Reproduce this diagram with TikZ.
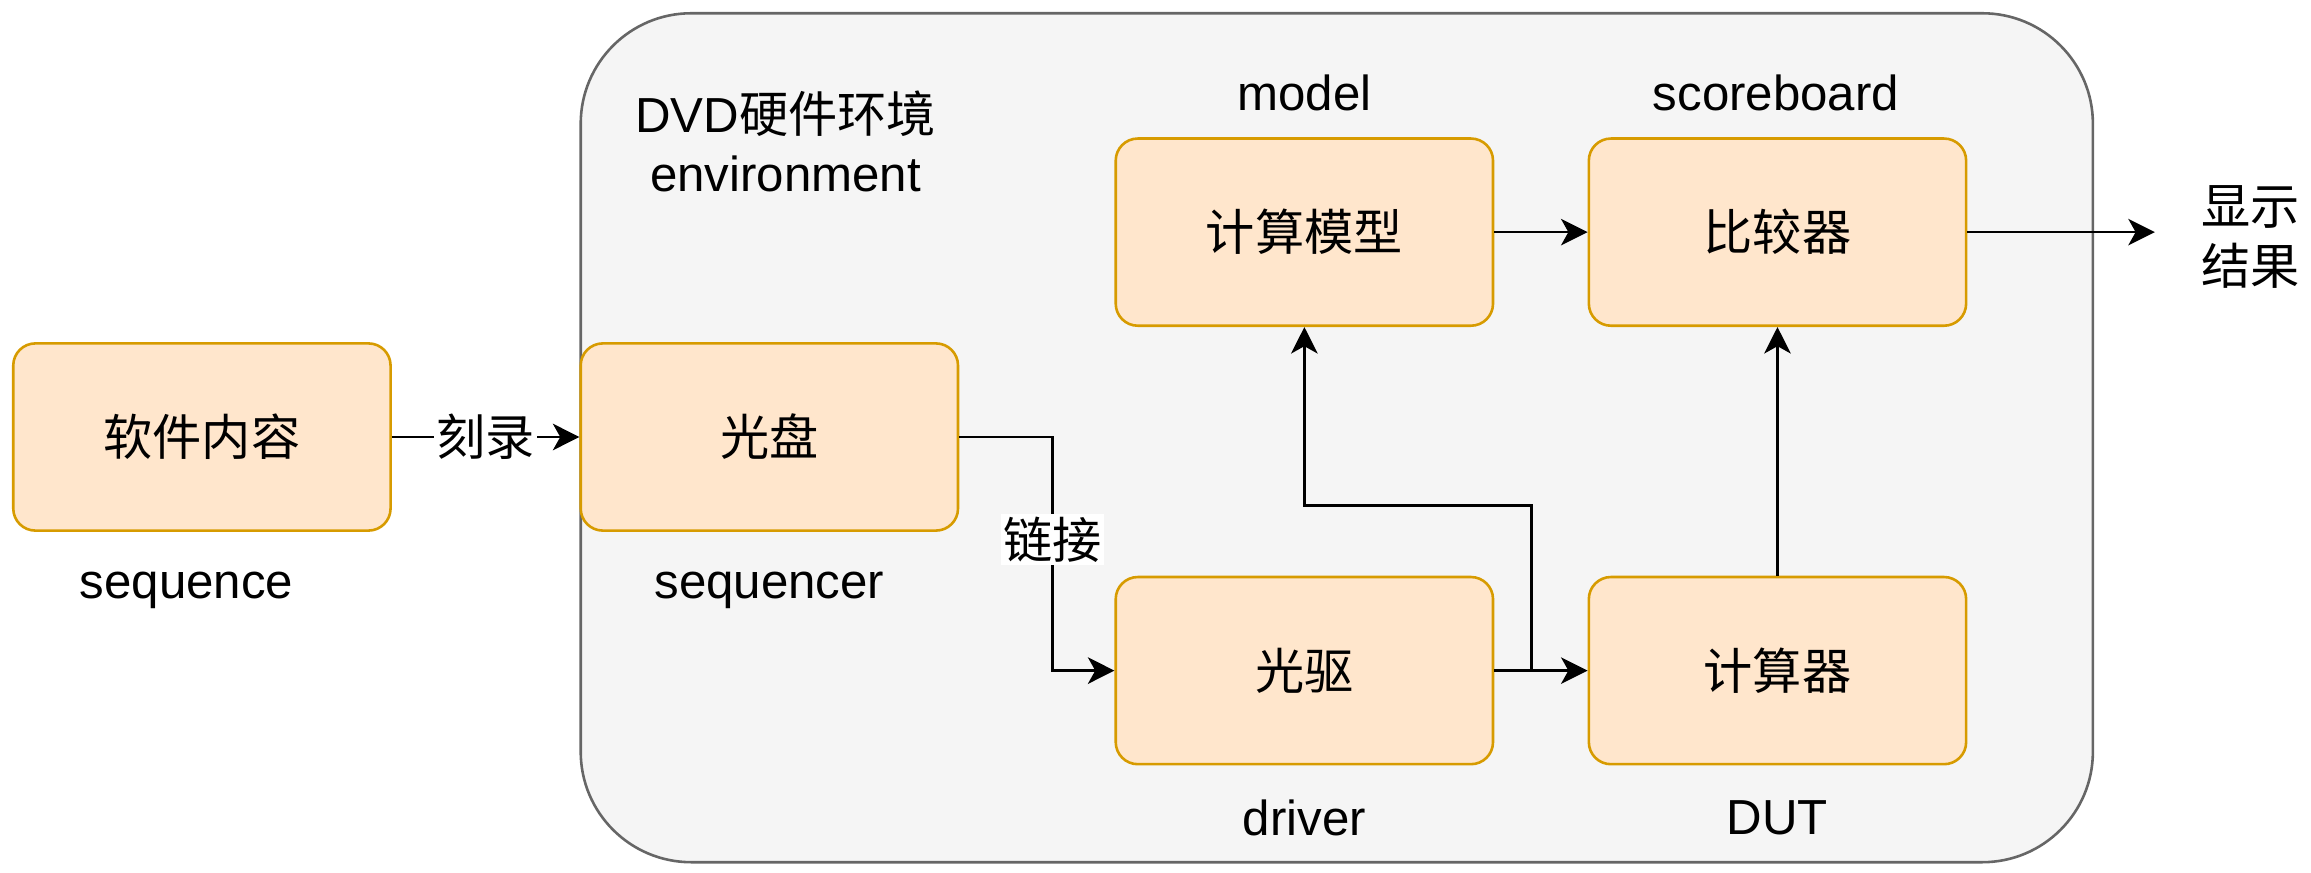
\documentclass[tikz,border=0pt]{standalone}
\usepackage{fontspec}
\setmainfont{Liberation Sans}
\newfontfamily\cjk{Noto Sans CJK SC}
\usepackage{xcolor}
\usetikzlibrary{arrows.meta, positioning, calc}

\definecolor{boxfill}{HTML}{FFE6CC}
\definecolor{boxline}{HTML}{D79B00}
\definecolor{envfill}{HTML}{F5F5F5}
\definecolor{envline}{HTML}{666666}

\begin{document}
\begin{tikzpicture}[
          font=\fontsize{19}{23}\selectfont,
          blk/.style={rectangle, rounded corners=0.3cm, draw=boxline, fill=boxfill,
            line width=1pt, minimum width=5.12cm, minimum height=2.54cm, font=\fontsize{19}{23}\selectfont\cjk},
          envbox/.style={rectangle, rounded corners=1.5cm, draw=envline, fill=envfill,
            line width=1pt, minimum width=20.52cm, minimum height=11.52cm},
          lbl/.style={inner sep=1pt},
          conn/.style={-{Stealth[length=0.36cm, width=0.36cm, inset=0.1cm]}, line width=0.9pt}
        ]
          \useasboundingbox (0,0) rectangle (31.36,-11.84);

          % hardware environment
          \node[envbox] (hw) at (18.14,-5.94) {};
          \node[align=center] (hwl) at (10.66,-1.92) {DVD{\cjk 硬件环境}\\environment};

          % blocks
          \node[blk] (soft) at (2.74,-5.93) {软件内容};
          \node[blk] (disc) at (10.44,-5.93) {光盘};
          \node[blk] (mdl) at (17.70,-3.15) {计算模型};
          \node[blk] (cmp) at (24.12,-3.15) {比较器};
          \node[blk] (drv) at (17.70,-9.10) {光驱};
          \node[blk] (dut) at (24.12,-9.10) {计算器};

          % names
          \node[lbl] (softl) at (2.53,-8.01) {sequence};
          \node[lbl] (discl) at (10.44,-8.01) {sequencer};
          \node[lbl] (mdll) at (17.70,-1.26) {model};
          \node[lbl] (cmpl) at (24.10,-1.26) {scoreboard};
          \node[lbl] (drvl) at (17.70,-11.10) {driver};
          \node[lbl] (dutl) at (24.12,-11.10) {DUT};
          \node[lbl, align=center, font=\fontsize{19}{23}\selectfont\cjk] (res) at (30.54,-3.22) {显示\\结果};

          % connectors
          \coordinate (out) at (29.24,-3.15);
          \coordinate (j1) at (14.28,-5.93);
          \coordinate (j2) at (20.78,-9.10);
          \coordinate (j3) at (20.78,-6.86);

          \draw[conn] (soft) -- node[lbl, fill=white, font=\fontsize{19}{23}\selectfont\cjk] {刻录} (disc);
          \draw[conn] (disc.east) -- (j1) |- node[pos=0.22, lbl, fill=white, font=\fontsize{19}{23}\selectfont\cjk] {链接} (drv.west);
          \draw[conn] (drv) -- (dut);
          \draw[conn] (j2) -- (j3) -| (mdl.south);
          \draw[conn] (dut) -- (cmp);
          \draw[conn] (mdl) -- (cmp);
          \draw[conn] (cmp) -- (out);
        \end{tikzpicture}
\end{document}
